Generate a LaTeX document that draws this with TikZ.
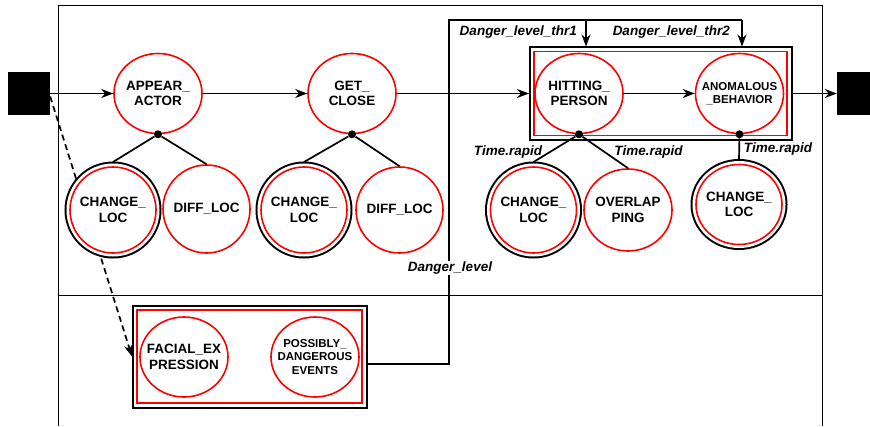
\documentclass[tikz,border=0pt]{standalone}
\usepackage{fontspec}
\setmainfont{Liberation Sans}
\usetikzlibrary{shapes.geometric, arrows.meta, positioning}

\tikzset{
  state/.style={ellipse, draw=red, line width=1.6pt, fill=white, inner sep=-12pt,
    minimum width=88pt, minimum height=80pt, align=center,
    font=\bfseries\fontsize{13.5}{15.5}\selectfont},
  dstate/.style={state, outer sep=5pt, minimum width=86pt, minimum height=86pt,
    preaction={draw=black, line width=11pt},
    preaction={draw=white, line width=7pt}},
  groupbox/.style={rectangle, draw=red, line width=1.6pt, fill=white, outer sep=5pt,
    preaction={draw=black, line width=11pt},
    preaction={draw=white, line width=7pt}},
  endbox/.style={rectangle, fill=black, minimum width=42pt, minimum height=43pt},
  dot/.style={circle, fill=black, inner sep=0pt, minimum size=8pt},
  line/.style={line width=1.7pt},
  arr/.style={line, -{Stealth[length=12pt,width=9pt]}},
  lbl/.style={font=\bfseries\itshape\fontsize{13.5}{15.5}\selectfont, inner sep=1pt},
  small/.style={font=\bfseries\fontsize{11.5}{13.5}\selectfont}
}

\begin{document}
\begin{tikzpicture}[x=1pt, y=-1pt]
  \useasboundingbox (0,0) rectangle (870,426);
  % frame
  \draw[line width=1pt] (58,426) -- (58,5) -- (822,5) -- (822,426);
  \draw[line width=1pt] (58,295) -- (822,295);

  % start and end
  \node[endbox] (start) at (29,93.5) {};
  \node[endbox] (stop) at (858,93.5) {};

  % lower group
  \node[groupbox, minimum width=225pt, minimum height=93pt] (pdbox) at (249.5,356.5) {};
  \node[state] (facial) at (184,357) {FACIAL\_EX\\PRESSION};
  \node[state, small] (poss) at (315,357) {POSSIBLY\_\\DANGEROUS\\EVENTS};
  \draw[arr, dash pattern=on 6pt off 4pt] ([yshift=-3pt]start.east) -- (pdbox.west);

  % first row
  \node[state] (appear) at (158,93.5) {APPEAR\_\\ACTOR};
  \node[state] (close) at (352,93.5) {GET\_\\CLOSE};
  \node[groupbox, minimum width=253pt, minimum height=84pt] (grp) at (660.5,93.5) {};
  \node[state] (hit) at (579,93.5) {HITTING\_\\PERSON};
  \node[state, small] (anom) at (739.5,93.5) {ANOMALOUS\\\_BEHAVIOR};

  % sub-events
  \node[dstate] (cl1) at (113,210) {CHANGE\_\\LOC};
  \node[state, minimum width=87pt, minimum height=88pt] (diff1) at (206.5,209) {DIFF\_LOC};
  \node[dstate] (cl2) at (304,210) {CHANGE\_\\LOC};
  \node[state, minimum width=87pt, minimum height=86pt] (diff2) at (399.5,210) {DIFF\_LOC};
  \node[dstate] (cl3) at (533.5,210) {CHANGE\_\\LOC};
  \node[state, minimum width=88pt, minimum height=82pt] (overlap) at (628,210) {OVERLAP\\PING};
  \node[dstate, minimum height=80pt] (cl4) at (739,204.5) {CHANGE\_\\LOC};

  \node[dot] (d1) at (appear.south) {};
  \node[dot] (d2) at (close.south) {};
  \node[dot] (d3) at (hit.south) {};
  \node[dot] (d4) at (anom.south) {};
  \draw[line] (d1) -- (cl1.north);
  \draw[line] (d1) -- (diff1.north);
  \draw[line] (d2) -- (cl2.north);
  \draw[line] (d2) -- (diff2.north);
  \draw[line] (d3) -- (cl3.north);
  \draw[line] (d3) -- (overlap.north);
  \draw[line] (d4) -- (cl4.north);

  % main flow
  \draw[arr] (start) -- (appear);
  \draw[arr] (appear) -- (close);
  \draw[arr] (close) -- (grp);
  \draw[arr] (hit) -- (anom);
  \draw[arr] (grp) -- (stop);

  % danger level feedback
  \coordinate (thr) at (449,20);
  \coordinate (t1) at (586,20);
  \coordinate (t2) at (742,20);
  \draw[line] ([yshift=-7.5pt]pdbox.east) -| (thr) -- (t2);
  \draw[arr] (t1) -- (t1 |- grp.north);
  \draw[arr] (t2) -- (t2 |- grp.north);
  \node[lbl, fill=white] (dlvl) at (450,268) {Danger\_level};
  \node[lbl, anchor=east] (thr1) at (578,32) {Danger\_level\_thr1};
  \node[lbl, anchor=east] (thr2) at (731,32) {Danger\_level\_thr2};

  % time labels
  \node[lbl] (tr1) at (508,152) {Time.rapid};
  \node[lbl] (tr2) at (648.5,152) {Time.rapid};
  \node[lbl] (tr3) at (778,149) {Time.rapid};
\end{tikzpicture}
\end{document}
